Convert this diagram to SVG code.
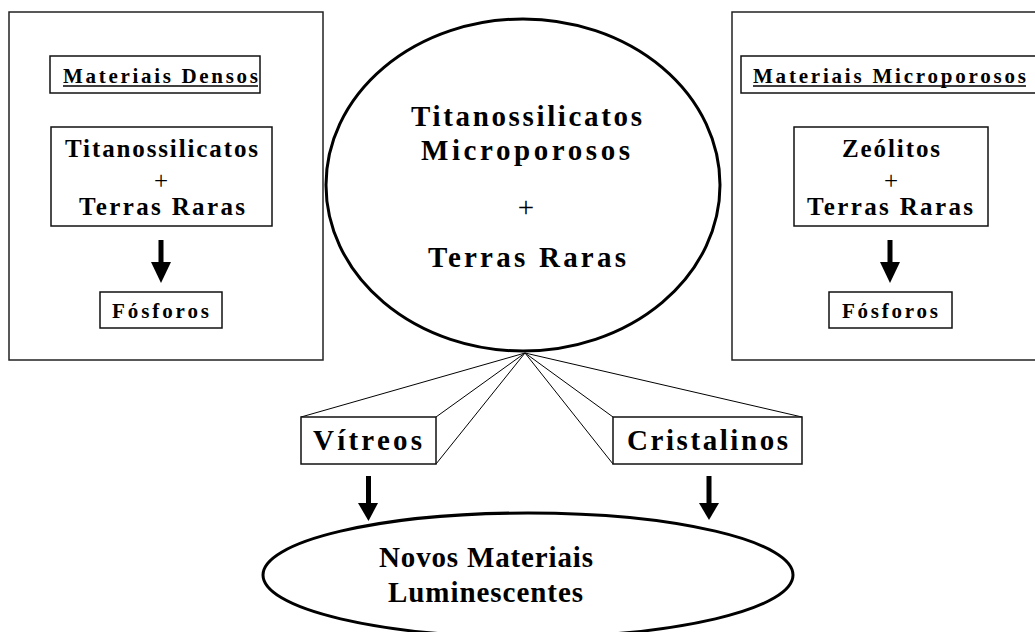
<svg xmlns="http://www.w3.org/2000/svg" width="1035" height="632" viewBox="0 0 1035 632">
<defs>
<style>
.frame{fill:#fff;stroke:#222;stroke-width:1.5}
.box{fill:#fff;stroke:#111;stroke-width:1.5}
.ell{fill:#fff;stroke:#000;stroke-width:3}
.con{fill:none;stroke:#000;stroke-width:1}
.ul{stroke:#000;stroke-width:1.5}
.t{font-family:"Liberation Serif","Times New Roman",serif;font-weight:bold;fill:#000;text-anchor:middle}
.p{font-family:"Liberation Serif","Times New Roman",serif;font-weight:normal;fill:#000;text-anchor:middle}
.s21{font-size:21px}
.s25{font-size:25px}
.s29{font-size:29px}
</style>
</defs>
<rect width="1035" height="632" fill="#fff"/>

<g id="left-panel">
<rect class="frame" x="9" y="12" width="314" height="348"/>
<g id="materiais-densos">
<rect class="box" x="50" y="56" width="210" height="37"/>
<text class="t s21" x="160.5" y="83" textLength="195" lengthAdjust="spacing">Materiais Densos</text>
<line class="ul" x1="63" y1="86" x2="258" y2="86"/>
</g>
<g id="titanossilicatos-tr">
<rect class="box" x="51" y="127" width="221" height="99"/>
<text class="t s25" x="161.5" y="157" textLength="193" lengthAdjust="spacing">Titanossilicatos</text>
<text class="p s25" x="161" y="189">+</text>
<text class="t s25" x="162" y="215" textLength="166" lengthAdjust="spacing">Terras Raras</text>
</g>
<g id="fosforos-left">
<rect class="box" x="100" y="292" width="122" height="36"/>
<text class="t s21" x="160.5" y="318" textLength="97" lengthAdjust="spacing">Fósforos</text>
</g>
</g>

<g id="right-panel">
<rect class="frame" x="732" y="12" width="320" height="348"/>
<g id="materiais-microporosos">
<rect class="box" x="741" y="56" width="310" height="37"/>
<text class="t s21" x="889.5" y="83" textLength="273" lengthAdjust="spacing">Materiais Microporosos</text>
<line class="ul" x1="753" y1="86" x2="1026" y2="86"/>
</g>
<g id="zeolitos-tr">
<rect class="box" x="794" y="127" width="194" height="99"/>
<text class="t s25" x="891" y="157" textLength="98" lengthAdjust="spacing">Zeólitos</text>
<text class="p s25" x="891" y="189">+</text>
<text class="t s25" x="890" y="215" textLength="166" lengthAdjust="spacing">Terras Raras</text>
</g>
<g id="fosforos-right">
<rect class="box" x="829" y="292" width="123" height="36"/>
<text class="t s21" x="890" y="318" textLength="96" lengthAdjust="spacing">Fósforos</text>
</g>
</g>

<g id="center-ellipse">
<ellipse class="ell" cx="523" cy="185" rx="197" ry="166"/>
<text class="t s29" x="526.5" y="126" textLength="231" lengthAdjust="spacing">Titanossilicatos</text>
<text class="t s29" x="525.5" y="160" textLength="209" lengthAdjust="spacing">Microporosos</text>
<text class="p s29" x="526" y="217">+</text>
<text class="t s29" x="527" y="267" textLength="198" lengthAdjust="spacing">Terras Raras</text>
</g>

<g id="connectors">
<path class="con" d="M525,353 L301,417 M525,353 L436,417 M525,353 L436,464"/>
<path class="con" d="M525,353 L613,417 M525,353 L613,464 M525,353 L802,417"/>
<g fill="#000">
<rect x="158.5" y="240" width="5" height="23"/>
<path d="M151,262 L171,262 L161,283Z"/>
<rect x="887.5" y="240" width="5" height="23"/>
<path d="M880,262 L900,262 L890,283Z"/>
<rect x="366" y="476" width="5" height="28"/>
<path d="M358,503 L378,503 L368.5,521Z"/>
<rect x="706.5" y="476" width="5" height="28"/>
<path d="M699,503 L719,503 L709,520Z"/>
</g>
</g>

<g id="vitreos">
<rect class="box" x="301" y="417" width="135" height="47"/>
<text class="t s29" x="367.5" y="450" textLength="109" lengthAdjust="spacing">Vítreos</text>
</g>

<g id="cristalinos">
<rect class="box" x="613" y="417" width="189" height="47"/>
<text class="t s29" x="707.5" y="450" textLength="161" lengthAdjust="spacing">Cristalinos</text>
</g>

<g id="novos-materiais">
<ellipse class="ell" cx="528" cy="575" rx="265" ry="62"/>
<text class="t s29" x="486" y="567" textLength="214" lengthAdjust="spacing">Novos Materiais</text>
<text class="t s29" x="485.5" y="602" textLength="195" lengthAdjust="spacing">Luminescentes</text>
</g>
</svg>
